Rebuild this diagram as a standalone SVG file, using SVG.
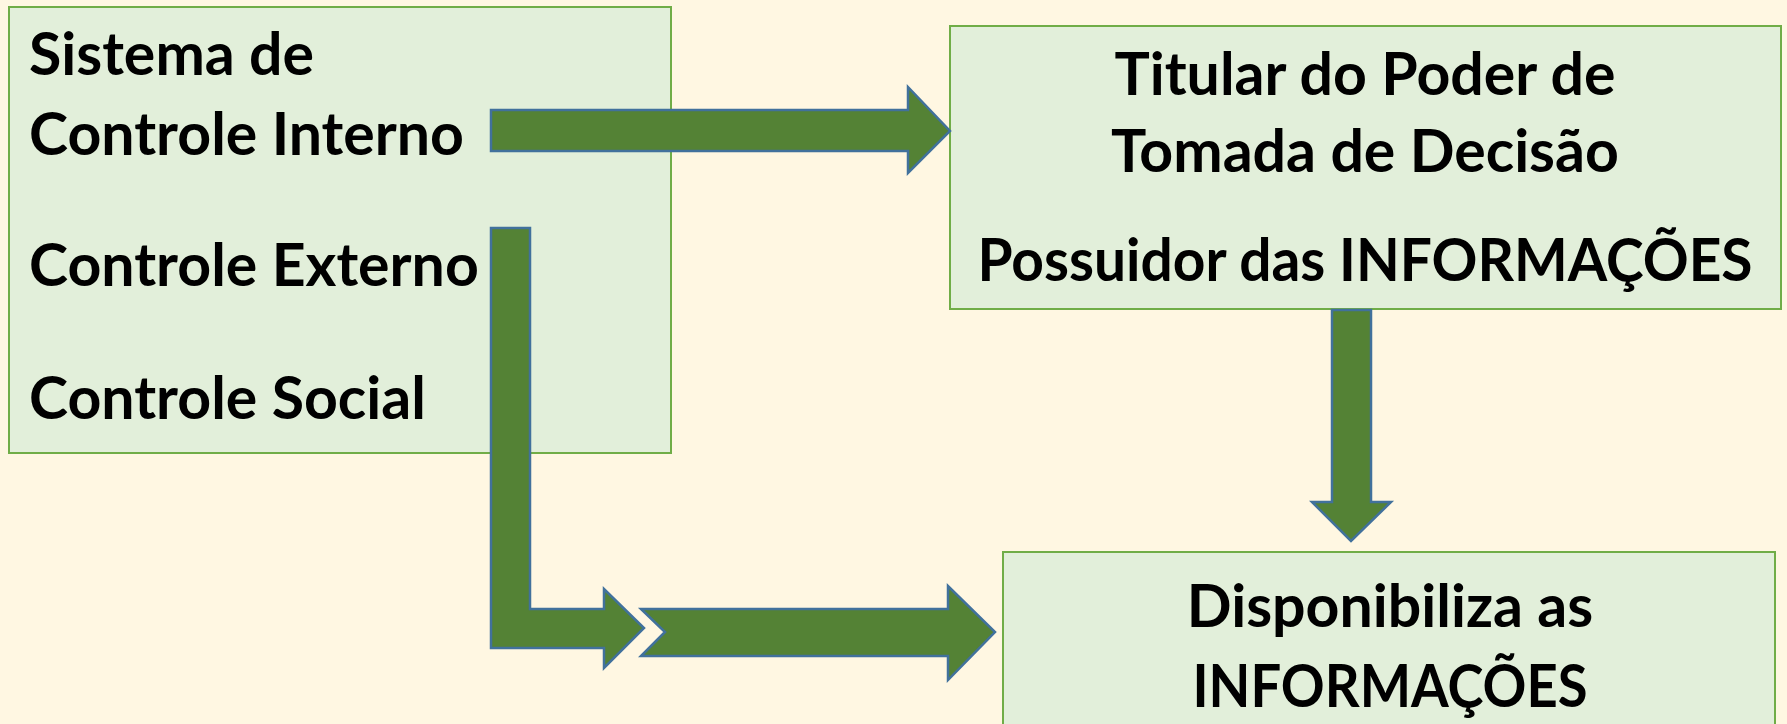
<svg xmlns="http://www.w3.org/2000/svg" width="1787" height="724" viewBox="0 0 1787 724">
<style>
.box{fill:#E2EFDA;stroke:#70AD47;stroke-width:2}
.arr{fill:#548235;stroke:#41719C;stroke-width:2.5;stroke-linejoin:miter}
text{font-family:Lato,"Open Sans","Liberation Sans",sans-serif;font-weight:bold;font-size:59px;fill:#000}
.c{text-anchor:middle}
</style>
<rect width="1787" height="724" fill="#FFF7E2"/>
<g id="node-controles">
<rect class="box" x="9" y="7" width="662" height="446"/>
<text x="29" y="75">Sistema de</text>
<text x="29" y="155">Controle Interno</text>
<text x="29" y="286">Controle Externo</text>
<text x="29" y="419">Controle Social</text>
</g>
<g id="node-titular">
<rect class="box" x="950" y="26" width="831" height="283"/>
<text class="c" x="1365" y="95">Titular do Poder de</text>
<text class="c" x="1365" y="172">Tomada de Decisão</text>
<text class="c" x="1365" y="281" textLength="775" lengthAdjust="spacingAndGlyphs">Possuidor das INFORMAÇÕES</text>
</g>
<g id="node-disponibiliza">
<rect class="box" x="1003" y="552" width="772" height="180"/>
<text class="c" x="1390" y="627">Disponibiliza as</text>
<text class="c" x="1390" y="707" textLength="395" lengthAdjust="spacingAndGlyphs">INFORMAÇÕES</text>
</g>
<g id="connectors">
<path class="arr" d="M491,110 L908,110 L908,87 L950,131 L908,173 L908,151 L491,151 Z"/>
<path class="arr" d="M1332,310 L1371,310 L1371,502 L1391,502 L1351,541 L1312,502 L1332,502 Z"/>
<path class="arr" d="M491,228 L530,228 L530,609 L604,609 L604,589 L644,628 L604,668 L604,648 L491,648 Z"/>
<path class="arr" d="M641,609 L948,609 L948,586 L995,632 L948,680 L948,656 L641,656 L665,632 Z"/>
</g>
</svg>
